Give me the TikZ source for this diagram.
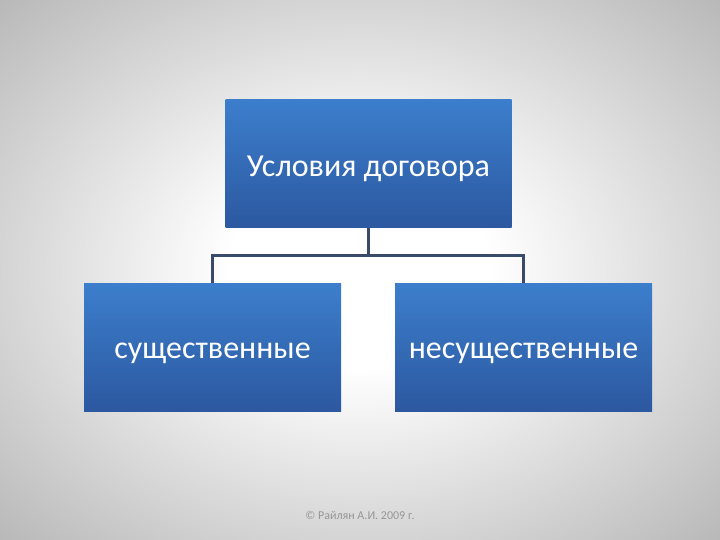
\documentclass[tikz,border=0pt]{standalone}
\usepackage{fontspec}
\setmainfont{Carlito}
\usepackage{xcolor}
\usetikzlibrary{positioning, calc}
\definecolor{boxTop}{RGB}{60, 126, 204}
\definecolor{boxBottom}{RGB}{44, 88, 160}
\definecolor{lineColor}{RGB}{58, 74, 106}
\definecolor{footText}{RGB}{150, 150, 150}
\definecolor{edgeGray}{RGB}{172, 172, 172}
\definecolor{cornerGray}{RGB}{148, 148, 148}
\pgfdeclareradialshading{slidebg}{\pgfpoint{0bp}{0bp}}{%
  color(0bp)=(white); color(9bp)=(white); color(40bp)=(edgeGray); color(60bp)=(cornerGray); color(80bp)=(cornerGray)}

\begin{document}
\begin{tikzpicture}[x=1pt, y=-1pt]

% Style definitions
\tikzset{
    base/.style={
        rectangle, align=center,
        top color=boxTop, bottom color=boxBottom, text=white,
        font=\fontsize{32}{36}\selectfont, minimum height=128pt
    },
    head/.style={base, minimum width=286pt},
    branch/.style={base, minimum width=257pt},
    link/.style={draw=lineColor, line width=2.6pt}
}

% Background
\useasboundingbox (0,0) rectangle (720,540);
\shade[shading=slidebg] (0,0) rectangle (720,540);

% Title
\node (terms) [head] at (368.5,164) {\raisebox{-5pt}[\height][\depth]{Условия договора}};

% Branches
\node (essential) [branch, below=55pt of terms, xshift=-156pt] {\raisebox{-6pt}[\height][\depth]{существенные}};
\node (nonessential) [branch, below=55pt of terms, xshift=155pt] {\raisebox{-6pt}[\height][\depth]{несущественные}};

% Connections
\coordinate (split) at ($(terms.south) + (0,27)$);
\draw [link] (terms.south) -- (split) -| (essential.north);
\draw [link] (split) -| (nonessential.north);

% Footer
\node (footer) [font=\fontsize{12}{14}\selectfont, color=footText] at (360,515) {© Райлян А.И. 2009 г.};

\end{tikzpicture}
\end{document}
